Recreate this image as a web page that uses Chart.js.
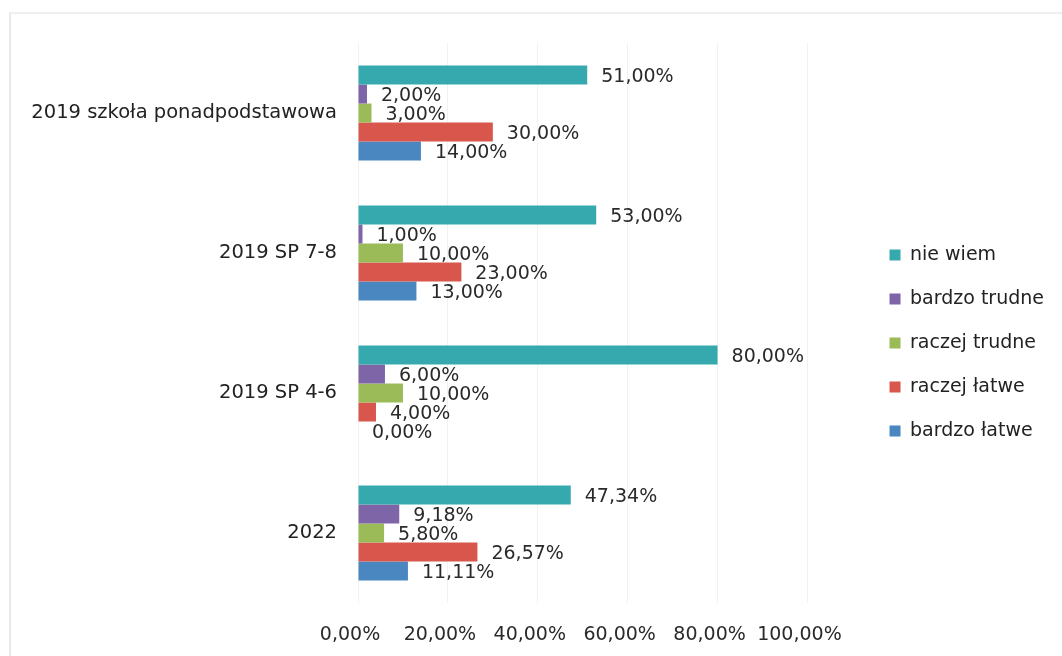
<!DOCTYPE html>
<html lang="pl">
<head>
<meta charset="utf-8">
<title>Ocena trudności</title>
<script src="https://cdn.jsdelivr.net/npm/chart.js@4/dist/chart.umd.min.js"></script>
<style>
  html, body { margin: 0; padding: 0; background: #fff; }
  #wrap { position: relative; width: 1062px; height: 656px; overflow: hidden; }
  #frame { position: absolute; left: 9px; top: 12px; width: 1100px; height: 700px;
           border-left: 2px solid #e9e9e9; border-top: 2px solid #efefef; }
  #chart { position: absolute; left: 0; top: 0; }
</style>
</head>
<body>
<div id="wrap">
  <div id="frame"></div>
  <canvas id="chart" width="1062" height="656"></canvas>
</div>
<script>
const categories = ['2019 szkoła ponadpodstawowa', '2019 SP 7-8', '2019 SP 4-6', '2022'];

const nieWiem      = [51.00, 53.00, 80.00, 47.34];
const bardzoTrudne = [2.00, 1.00, 6.00, 9.18];
const raczejTrudne = [3.00, 10.00, 10.00, 5.80];
const raczejLatwe  = [30.00, 23.00, 4.00, 26.57];
const bardzoLatwe  = [14.00, 13.00, 0.00, 11.11];

const tickValues = [0, 20, 40, 60, 80, 100];

const FONT = 'DejaVu Sans';

const pct = (v) => v.toFixed(2).replace('.', ',') + '%';

// value printed just past the end of every bar
const valueLabels = {
  id: 'valueLabels',
  afterDatasetsDraw(chart) {
    const ctx = chart.ctx;
    ctx.save();
    ctx.font = '19px "' + FONT + '"';
    ctx.fillStyle = '#2a2a2a';
    ctx.textAlign = 'left';
    ctx.textBaseline = 'middle';
    chart.data.datasets.forEach((ds, i) => {
      chart.getDatasetMeta(i).data.forEach((bar, j) => {
        ctx.fillText(pct(ds.data[j]), bar.x + 14, bar.y + 2);
      });
    });
    ctx.restore();
  }
};

const ctx = document.getElementById('chart').getContext('2d');
const myChart = new Chart(ctx, {
  type: 'bar',
  data: {
    labels: categories,
    datasets: [
      { label: 'nie wiem', data: nieWiem, backgroundColor: '#35a9ad' },
      { label: 'bardzo trudne', data: bardzoTrudne, backgroundColor: '#7e65a8' },
      { label: 'raczej trudne', data: raczejTrudne, backgroundColor: '#9bbb59' },
      { label: 'raczej łatwe', data: raczejLatwe, backgroundColor: '#d9564c' },
      { label: 'bardzo łatwe', data: bardzoLatwe, backgroundColor: '#4a86c0' },
    ],
  },
  options: {
    indexAxis: 'y',
    responsive: false,
    animation: false,
    devicePixelRatio: 1,
    categoryPercentage: 0.68,
    barPercentage: 1.0,
    layout: { padding: { left: 27, right: 8, top: 43, bottom: 13 } },
    scales: {
      x: {
        min: 0,
        max: 112.7,
        afterBuildTicks: (scale) => {
          scale.ticks = tickValues.map((v) => ({ value: v }));
        },
        afterFit: (scale) => { scale.height = 40; },
        grid: { color: '#f1f1f1', drawTicks: false },
        border: { display: false },
        ticks: {
          padding: 21,
          labelOffset: -8,
          color: '#2a2a2a',
          font: { family: FONT, size: 19 },
          callback: (v) => pct(v),
        },
      },
      y: {
        afterFit: (scale) => { scale.width = 331; },
        grid: { display: false, drawTicks: false },
        border: { display: false },
        ticks: {
          padding: 21,
          color: '#222',
          font: { family: FONT, size: 19.5 },
        },
      },
    },
    plugins: {
      legend: {
        position: 'right',
        labels: {
          boxWidth: 11,
          boxHeight: 11,
          padding: 25,
          color: '#222',
          font: { family: FONT, size: 19 },
        },
      },
      tooltip: { enabled: false },
    },
  },
  plugins: [valueLabels],
});
</script>
</body>
</html>
